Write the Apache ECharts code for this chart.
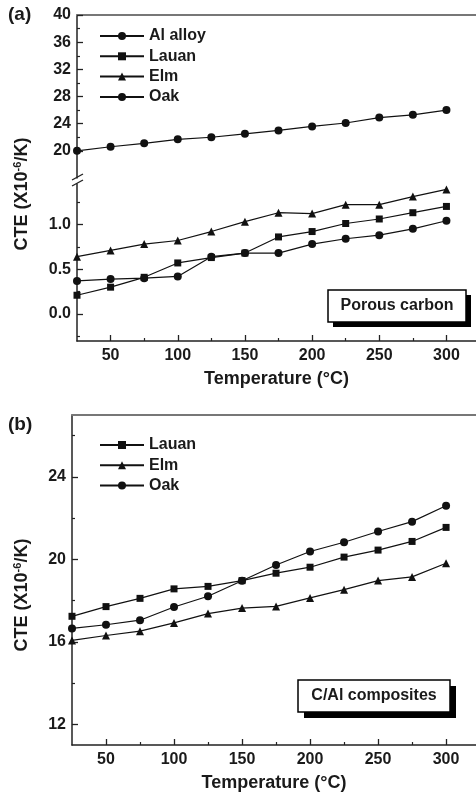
<!DOCTYPE html>
<html>
<head>
<meta charset="utf-8">
<script src="https://cdn.jsdelivr.net/npm/echarts@6/dist/echarts.min.js"></script>
<style>
html,body{margin:0;padding:0;background:#fff;}
#chart{width:476px;height:801px;}
</style>
</head>
<body>
<div id="chart"></div>
<script>
// ---- data ----
const temps = [25, 50, 75, 100, 125, 150, 175, 200, 225, 250, 275, 300];
// panel (a): porous carbon
const aAlAlloy = [20.0, 20.6, 21.1, 21.7, 22.0, 22.5, 23.0, 23.6, 24.1, 24.9, 25.3, 26.0];
const aLauan = [0.21, 0.30, 0.41, 0.57, 0.63, 0.68, 0.86, 0.92, 1.01, 1.06, 1.13, 1.20];
const aElm = [0.64, 0.71, 0.78, 0.82, 0.92, 1.03, 1.13, 1.12, 1.22, 1.22, 1.31, 1.39];
const aOak = [0.37, 0.39, 0.40, 0.42, 0.64, 0.68, 0.68, 0.78, 0.84, 0.88, 0.95, 1.04];
// panel (b): C/Al composites
const bLauan = [17.24, 17.71, 18.11, 18.57, 18.69, 18.97, 19.33, 19.62, 20.11, 20.45, 20.87, 21.55];
const bElm = [16.07, 16.31, 16.52, 16.92, 17.37, 17.64, 17.72, 18.13, 18.53, 18.97, 19.15, 19.81];
const bOak = [16.65, 16.83, 17.05, 17.69, 18.21, 18.96, 19.73, 20.38, 20.83, 21.35, 21.83, 22.60];
// ticks
const xMajorTicks = [50, 100, 150, 200, 250, 300];
const xMinorTicks = [75, 125, 175, 225, 275];
const aUpperMajor = [20, 24, 28, 32, 36, 40];
const aUpperMinor = [22, 26, 30, 34, 38];
const aLowerMajor = [0, 0.5, 1.0];
const aLowerMinor = [-0.25, 0.25, 0.75, 1.25];
const bMajor = [12, 16, 20, 24];
const bMinor = [14, 18, 22, 26];

const FONT = '"Liberation Sans", Arial, sans-serif';
const TXT = '#1a1a1a';
const AX = '#222';

function zip(xs, ys) { return xs.map((x, i) => [x, ys[i]]); }

const chart = echarts.init(document.getElementById('chart'), null, {renderer: 'canvas'});

const labelStyle = {color: TXT, fontSize: 16, fontWeight: 'bold', fontFamily: FONT};

function mainX(gridIndex, withName) {
  return {
    type: 'value', gridIndex, position: 'bottom', min: 25, max: 322,
    axisLine: {show: true, onZero: false, lineStyle: {color: AX, width: 1.5}},
    axisTick: {show: true, inside: true, length: 6, customValues: xMajorTicks, lineStyle: {color: AX, width: 1.3}},
    axisLabel: Object.assign({show: true, margin: 7, customValues: xMajorTicks}, labelStyle),
    splitLine: {show: false},
    name: withName ? 'Temperature (°C)' : '', nameLocation: 'middle', nameGap: 29,
    nameTextStyle: {color: TXT, fontSize: 18, fontWeight: 'bold', fontFamily: FONT}
  };
}
function minorX(gridIndex) {
  return {
    type: 'value', gridIndex, position: 'bottom', min: 25, max: 322,
    axisLine: {show: false, onZero: false},
    axisTick: {show: true, inside: true, length: 3, customValues: xMinorTicks, lineStyle: {color: AX, width: 1.2}},
    axisLabel: {show: false}, splitLine: {show: false}
  };
}
function topX(gridIndex) {
  return {
    type: 'value', gridIndex, position: 'top', min: 25, max: 322,
    axisLine: {show: true, onZero: false, lineStyle: {color: '#777', width: 2}},
    axisTick: {show: false}, axisLabel: {show: false}, splitLine: {show: false}
  };
}
function mainY(gridIndex, min, max, major, fmt) {
  return {
    type: 'value', gridIndex, position: 'left', min, max,
    axisLine: {show: true, onZero: false, lineStyle: {color: AX, width: 1.5}},
    axisTick: {show: true, inside: true, length: 6, customValues: major, lineStyle: {color: AX, width: 1.3}},
    axisLabel: Object.assign({show: true, margin: 6, customValues: major, formatter: fmt}, labelStyle),
    splitLine: {show: false}
  };
}
function minorY(gridIndex, min, max, minor) {
  return {
    type: 'value', gridIndex, position: 'left', min, max,
    axisLine: {show: false, onZero: false},
    axisTick: {show: true, inside: true, length: 3, customValues: minor, lineStyle: {color: AX, width: 1.2}},
    axisLabel: {show: false}, splitLine: {show: false}
  };
}

function ser(name, data, symbol, size, xi, yi) {
  return {
    name, type: 'line', data, xAxisIndex: xi, yAxisIndex: yi,
    symbol, symbolSize: size,
    lineStyle: {color: '#111', width: 1.2},
    itemStyle: {color: '#111'},
    emphasis: {disabled: true},
    animation: false
  };
}

const legendText = {color: TXT, fontSize: 16, fontWeight: 'bold', fontFamily: FONT, lineHeight: 16};

const option = {
  backgroundColor: '#fff',
  animation: false,
  grid: [
    {left: 77, right: 0, top: 15, height: 163},
    {left: 77, right: 0, top: 184, height: 157},
    {left: 72, right: 0, top: 415, height: 330}
  ],
  xAxis: [
    topX(0),          // 0: top frame of (a)
    mainX(1, true),   // 1: bottom axis of (a)
    minorX(1),        // 2
    topX(2),          // 3: top frame of (b)
    mainX(2, true),   // 4
    minorX(2)         // 5
  ],
  yAxis: [
    mainY(0, 16, 40, aUpperMajor, v => String(v)),
    minorY(0, 16, 40, aUpperMinor),
    mainY(1, -0.3, 1.45, aLowerMajor, v => Number(v).toFixed(1)),
    minorY(1, -0.3, 1.45, aLowerMinor),
    mainY(2, 11, 27, bMajor, v => String(v)),
    minorY(2, 11, 27, bMinor)
  ],
  legend: [
    {
      orient: 'vertical', left: 94, top: 23, itemWidth: 44, itemHeight: 10, itemGap: 4.3,
      selectedMode: false, textStyle: legendText,
      data: ['Al alloy', 'Lauan', 'Elm', 'Oak']
    },
    {
      orient: 'vertical', left: 94, top: 432, itemWidth: 44, itemHeight: 10, itemGap: 4.3,
      selectedMode: false, textStyle: legendText,
      data: ['Lauan', 'Elm', 'Oak']
    }
  ],
  series: [
    ser('Al alloy', zip(temps, aAlAlloy), 'circle', 8, 0, 0),
    ser('Lauan', zip(temps, aLauan), 'rect', 7, 1, 2),
    ser('Elm', zip(temps, aElm), 'triangle', 8, 1, 2),
    ser('Oak', zip(temps, aOak), 'circle', 8, 1, 2),
    ser('Lauan', zip(temps, bLauan), 'rect', 7, 4, 4),
    ser('Elm', zip(temps, bElm), 'triangle', 8, 4, 4),
    ser('Oak', zip(temps, bOak), 'circle', 8, 4, 4)
  ],
  graphic: [
    // panel letters
    {type: 'text', x: 8, y: 15, style: {text: '(a)', fill: TXT, font: 'bold 19px ' + FONT, verticalAlign: 'middle'}},
    {type: 'text', x: 8, y: 425, style: {text: '(b)', fill: TXT, font: 'bold 19px ' + FONT, verticalAlign: 'middle'}},
    // y-axis titles
    {type: 'text', x: 22, y: 194, rotation: Math.PI / 2,
      style: {text: '{n|CTE (X10}{s|-6}{n|/K)}', align: 'center', verticalAlign: 'middle', fill: TXT,
        rich: {n: {fontSize: 18, fontWeight: 'bold', fontFamily: FONT, fill: TXT},
               s: {fontSize: 11, fontWeight: 'bold', fontFamily: FONT, fill: TXT, padding: [0, 0, 9, 0]}}}},
    {type: 'text', x: 22, y: 595, rotation: Math.PI / 2,
      style: {text: '{n|CTE (X10}{s|-6}{n|/K)}', align: 'center', verticalAlign: 'middle', fill: TXT,
        rich: {n: {fontSize: 18, fontWeight: 'bold', fontFamily: FONT, fill: TXT},
               s: {fontSize: 11, fontWeight: 'bold', fontFamily: FONT, fill: TXT, padding: [0, 0, 9, 0]}}}},
    // axis break marks
    {type: 'line', shape: {x1: 72, y1: 180, x2: 83, y2: 174}, style: {stroke: AX, lineWidth: 1.4}},
    {type: 'line', shape: {x1: 72, y1: 186, x2: 83, y2: 180}, style: {stroke: AX, lineWidth: 1.4}},
    // Porous carbon box
    {type: 'rect', shape: {x: 333, y: 295, width: 138, height: 32}, style: {fill: '#000'}},
    {type: 'rect', shape: {x: 328, y: 290, width: 138, height: 32}, style: {fill: '#fff', stroke: '#000', lineWidth: 1.5}},
    {type: 'text', x: 397, y: 306, style: {text: 'Porous carbon', align: 'center', verticalAlign: 'middle', fill: TXT, font: 'bold 16px ' + FONT}},
    // C/Al composites box
    {type: 'rect', shape: {x: 304, y: 686, width: 152, height: 32}, style: {fill: '#000'}},
    {type: 'rect', shape: {x: 298, y: 680, width: 152, height: 32}, style: {fill: '#fff', stroke: '#000', lineWidth: 1.5}},
    {type: 'text', x: 374, y: 696, style: {text: 'C/Al composites', align: 'center', verticalAlign: 'middle', fill: TXT, font: 'bold 16px ' + FONT}}
  ]
};
chart.setOption(option);
</script>
</body>
</html>
